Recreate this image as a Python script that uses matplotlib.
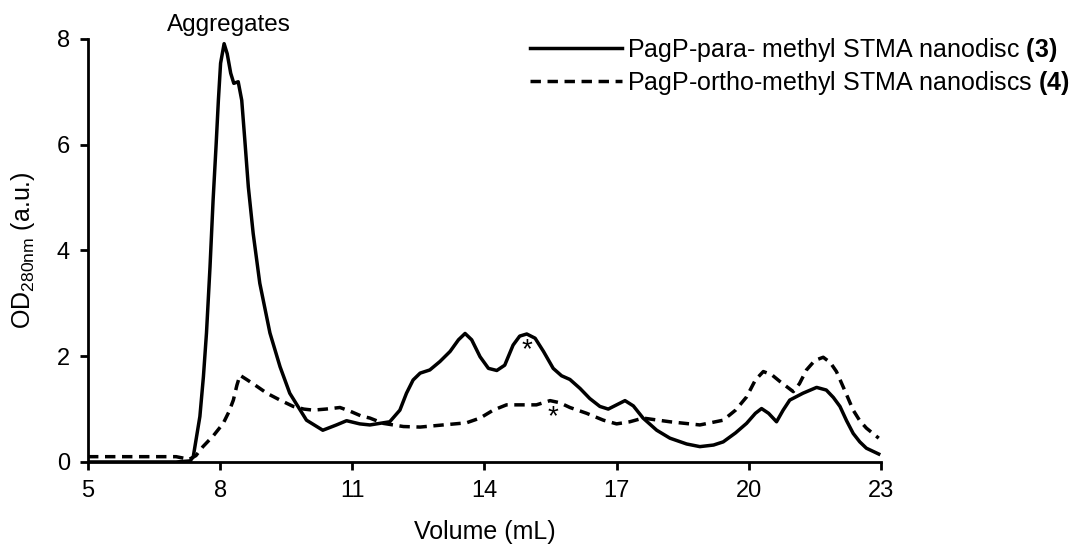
import matplotlib
matplotlib.use('Agg')
import matplotlib.pyplot as plt

plt.rcParams['font.family'] = ['Liberation Sans', 'DejaVu Sans']
plt.rcParams['mathtext.fontset'] = 'custom'
plt.rcParams['mathtext.rm'] = 'Liberation Sans'
plt.rcParams['mathtext.bf'] = 'Liberation Sans:bold'

# PagP-para- methyl STMA nanodisc (3)
vol_para = [5, 7.0, 7.32, 7.39, 7.54, 7.62, 7.69, 7.77, 7.84, 7.91, 7.96, 8.01, 8.09, 8.16,
            8.24, 8.31, 8.41, 8.49, 8.56, 8.64, 8.75, 8.90, 9.13, 9.36, 9.58, 9.96, 10.33,
            10.64, 10.87, 11.17, 11.40, 11.85, 12.08, 12.23, 12.38, 12.54, 12.76, 12.99,
            13.22, 13.41, 13.56, 13.71, 13.90, 14.09, 14.28, 14.46, 14.65, 14.80, 14.96,
            15.15, 15.34, 15.56, 15.75, 15.94, 16.17, 16.39, 16.62, 16.81, 17.00, 17.19,
            17.38, 17.60, 17.91, 18.21, 18.59, 18.89, 19.2, 19.42, 19.7, 19.95, 20.15,
            20.29, 20.45, 20.63, 20.78, 20.93, 21.23, 21.54, 21.76, 21.92, 22.07, 22.22,
            22.37, 22.52, 22.67, 22.95]
od_para = [0, 0, 0.02, 0.10, 0.86, 1.61, 2.44, 3.69, 4.95, 6.02, 6.84, 7.54, 7.91, 7.72,
           7.35, 7.16, 7.19, 6.84, 6.09, 5.20, 4.32, 3.38, 2.44, 1.80, 1.30, 0.79, 0.60,
           0.70, 0.78, 0.72, 0.70, 0.76, 0.98, 1.30, 1.55, 1.68, 1.74, 1.90,
           2.09, 2.31, 2.43, 2.31, 1.99, 1.77, 1.73, 1.83, 2.21, 2.38, 2.42,
           2.34, 2.09, 1.77, 1.63, 1.56, 1.39, 1.20, 1.05, 1.00, 1.08, 1.16,
           1.06, 0.83, 0.60, 0.45, 0.34, 0.29, 0.32, 0.38, 0.55, 0.73, 0.92,
           1.01, 0.92, 0.76, 0.98, 1.17, 1.30, 1.41, 1.36, 1.22, 1.05, 0.78,
           0.54, 0.38, 0.26, 0.15]

# PagP-ortho-methyl STMA nanodiscs (4)
vol_ortho = [5, 7.0, 7.3, 7.45, 7.61, 7.85, 8.07, 8.2, 8.30, 8.38, 8.45, 8.6, 8.8, 9.06,
             9.36, 9.66, 9.9, 10.11, 10.4, 10.72, 10.95, 11.2, 11.40, 11.70, 12.16, 12.54,
             13.06, 13.59, 13.90, 14.20, 14.50, 14.88, 15.18, 15.49, 15.71, 15.94, 16.32,
             16.70, 17.0, 17.30, 17.60, 18.21, 18.89, 19.42, 19.7, 19.95, 20.15, 20.33,
             20.52, 20.71, 21.01, 21.15, 21.31, 21.5, 21.69, 21.85, 21.99, 22.18, 22.37,
             22.52, 22.67, 22.95]
od_ortho = [0.1, 0.1, 0.05, 0.12, 0.29, 0.5, 0.73, 0.95, 1.17, 1.45, 1.64, 1.56, 1.45, 1.30,
            1.17, 1.05, 1.0, 0.98, 1.0, 1.03, 0.96, 0.87, 0.83, 0.73, 0.67, 0.66,
            0.70, 0.74, 0.83, 0.98, 1.08, 1.08, 1.08, 1.16, 1.12, 1.03, 0.92,
            0.79, 0.72, 0.76, 0.83, 0.76, 0.70, 0.79, 0.98, 1.23, 1.55, 1.71,
            1.65, 1.52, 1.33, 1.48, 1.74, 1.92, 1.98, 1.88, 1.71, 1.35, 0.98,
            0.78, 0.64, 0.45]

labels = ['PagP-para- methyl STMA nanodisc $\\bf{(3)}$',
          'PagP-ortho-methyl STMA nanodiscs $\\bf{(4)}$']
xticks = [5, 8, 11, 14, 17, 20, 23]
yticks = [0, 2, 4, 6, 8]

fig = plt.figure(figsize=(10.73, 5.48), dpi=100)
ax = fig.add_axes([0.082, 0.157, 0.739, 0.772])

ax.plot(vol_para, od_para, color='black', lw=2.5, solid_joinstyle='round',
        label=labels[0])
ax.plot(vol_ortho, od_ortho, color='black', lw=2.5, ls=(0, (3.0, 1.9)),
        dash_joinstyle='round', label=labels[1])

ax.set_xlim(5, 23)
ax.set_ylim(0, 8)
ax.set_xticks(xticks)
ax.set_yticks(yticks)
ax.tick_params(labelsize=17, width=2, length=6, direction='out', pad=7)
for s in ['top', 'right']:
    ax.spines[s].set_visible(False)
for s in ['left', 'bottom']:
    ax.spines[s].set_linewidth(2)

ax.set_xlabel('Volume (mL)', fontsize=18, labelpad=13)
ax.set_ylabel('OD$_{\\mathrm{280nm}}$ (a.u.)', fontsize=18, labelpad=14)

ax.text(8.2, 8.26, 'Aggregates', fontsize=17.5, ha='center', va='center', clip_on=False)
ax.text(14.96, 2.12, '*', fontsize=20, ha='center', va='center')
ax.text(15.56, 0.85, '*', fontsize=20, ha='center', va='center')

ax.legend(loc='upper right', bbox_to_anchor=(0.997, 0.934), bbox_transform=fig.transFigure,
          frameon=False, fontsize=18, handlelength=3.7, handletextpad=0.2,
          labelspacing=0.2, borderpad=0, borderaxespad=0)

fig.savefig('out.png', dpi=100)
